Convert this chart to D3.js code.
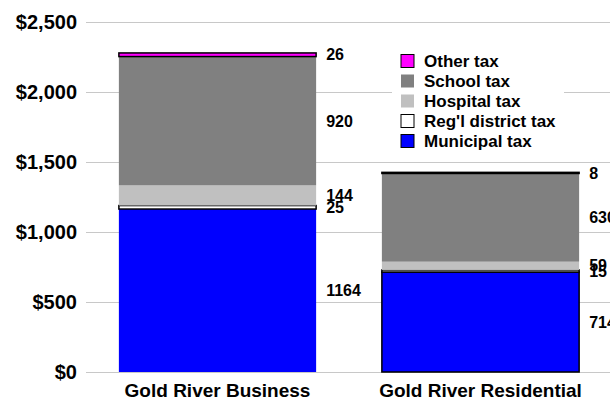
<!DOCTYPE html>
<html><head><meta charset="utf-8">
<script src="https://cdn.jsdelivr.net/npm/d3@7"></script>
<style>body{margin:0;background:#fff}svg{display:block}text{font-family:"Liberation Sans",Arial,sans-serif;font-weight:bold;fill:#000}</style>
</head><body><svg id="c" width="610" height="398"></svg>
<script>
const categories = ["Gold River Business", "Gold River Residential"];
const seriesNames = ["Municipal tax", "Reg'l district tax", "Hospital tax", "School tax", "Other tax"];
const municipal = [1164, 714];
const regional = [25, 15];
const hospital = [144, 59];
const school = [920, 630];
const other = [26, 8];
const yTicks = [0, 500, 1000, 1500, 2000, 2500];

const seriesValues = [municipal, regional, hospital, school, other];
const colors = ["#0000FF", "#FFFFFF", "#C0C0C0", "#808080", "#FF00FF"];
const outlined = [true, true, false, false, true];

const svg = d3.select("#c");
const W = 610, H = 398;
const x = d3.scaleBand().domain(categories).range([86, 612]).paddingInner(0.25).paddingOuter(0.125);
const y = d3.scaleLinear().domain([0, 2500]).range([372, 22]);

// gridlines
svg.append("g").selectAll("line").data(yTicks).join("line")
  .attr("x1", 86).attr("x2", W).attr("y1", d => Math.round(y(d)) + 0.5).attr("y2", d => Math.round(y(d)) + 0.5)
  .attr("stroke", "#c8c8c8").attr("stroke-width", 1);

// y axis labels
const yAxis = d3.axisLeft(y).tickValues(yTicks).tickSize(0).tickPadding(0)
  .tickFormat(d => "$" + d3.format(",")(d));
const ga = svg.append("g").attr("transform", "translate(77,0)").call(yAxis);
ga.select(".domain").remove();
ga.selectAll("text").attr("font-size", 20).attr("font-family", "Liberation Sans, Arial, sans-serif").attr("font-weight", "bold").attr("fill", "#000");

// stacked data
const rows = categories.map((c, i) => {
  const o = { cat: c };
  seriesNames.forEach((s, j) => o[s] = seriesValues[j][i]);
  return o;
});
const stack = d3.stack().keys(seriesNames)(rows);

const bars = svg.append("g");
stack.forEach((layer, j) => {
  bars.append("g").selectAll("rect").data(layer).join("rect")
    .attr("x", d => x(d.data.cat))
    .attr("width", x.bandwidth())
    .attr("y", d => y(d[1]))
    .attr("height", d => y(d[0]) - y(d[1]))
    .attr("fill", colors[j])
    .attr("stroke", (d, i) => (outlined[j] && !(j === 0 && i === 0)) ? "#000" : "none")
    .attr("stroke-width", 1.5);
});

// value labels
stack.forEach((layer, j) => {
  svg.append("g").selectAll("text").data(layer).join("text")
    .attr("x", d => x(d.data.cat) + x.bandwidth() + 10)
    .attr("y", d => y((d[0] + d[1]) / 2))
    .attr("dy", "0.35em")
    .attr("font-size", 16)
    .text((d, i) => seriesValues[j][i]);
});

// category labels
const xAxis = d3.axisBottom(x).tickSize(0).tickPadding(0);
const gx = svg.append("g").attr("transform", "translate(0,381)").call(xAxis);
gx.select(".domain").remove();
gx.selectAll("text").attr("font-size", 19).attr("font-family", "Liberation Sans, Arial, sans-serif").attr("font-weight", "bold").attr("fill", "#000").attr("dy", "0.85em");

// legend
const leg = svg.append("g");
leg.append("rect").attr("x", 392).attr("y", 48).attr("width", 172).attr("height", 104).attr("fill", "#fff");
const order = [4, 3, 2, 1, 0];
order.forEach((j, k) => {
  const cy = 61 + k * 20;
  leg.append("rect").attr("x", 401).attr("y", cy - 6.5).attr("width", 13).attr("height", 13)
    .attr("fill", colors[j]).attr("stroke", outlined[j] ? "#000" : "none").attr("stroke-width", 1);
  leg.append("text").attr("x", 424).attr("y", cy).attr("dy", "0.35em").attr("font-size", 17).text(seriesNames[j]);
});
</script></body></html>
